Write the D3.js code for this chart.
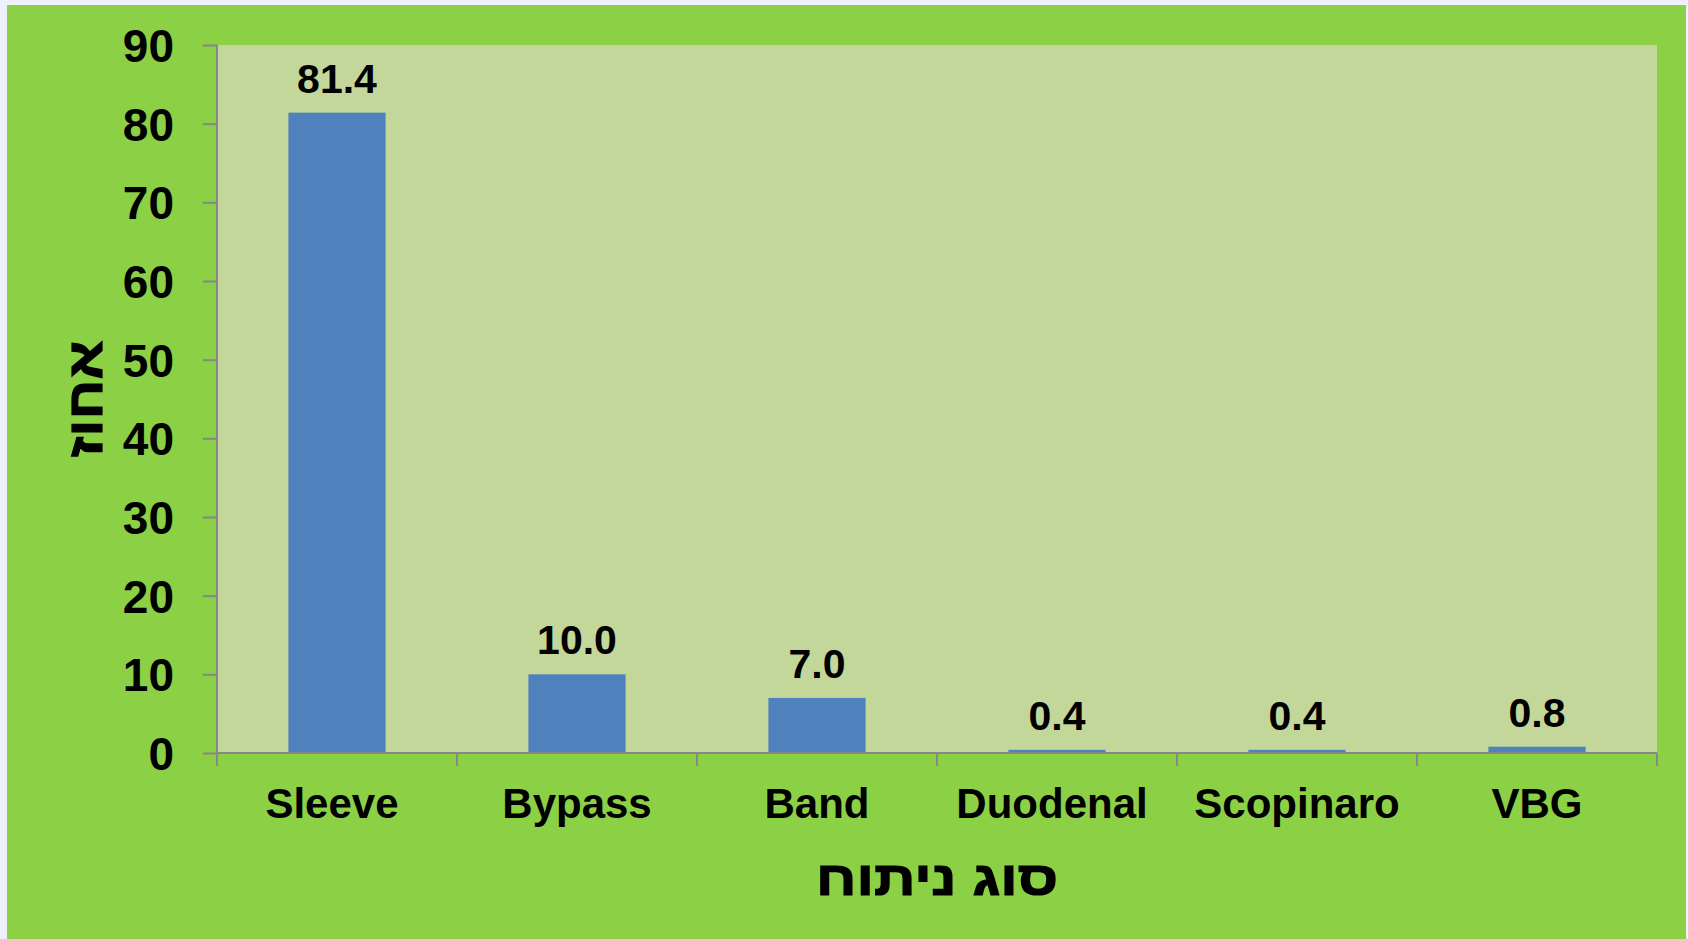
<!DOCTYPE html>
<html><head><meta charset="utf-8">
<script src="https://cdn.jsdelivr.net/npm/d3@7"></script>
<style>
html,body{margin:0;padding:0;background:#eef1fb;overflow:hidden;}
svg{display:block;}
text{font-family:"Liberation Sans",Arial,sans-serif;font-weight:bold;fill:#000;}
text.heb{stroke:#000;stroke-width:1.2px;}
</style></head>
<body>
<svg id="chart" width="1688" height="939"></svg>
<script>
const categories = ["Sleeve","Bypass","Band","Duodenal","Scopinaro","VBG"];
const values = [81.4, 10.0, 7.0, 0.4, 0.4, 0.8];
const yTicks = [0,10,20,30,40,50,60,70,80,90];
const xTitle = "סוג ניתוח";
const yTitle = "אחוז";

const svg = d3.select("#chart");
const W = 1688, H = 939;
const plot = {left:217, right:1657, top:45, bottom:753};

svg.append("rect").attr("x",7).attr("y",5).attr("width",1679).attr("height",H-5).attr("fill","#8cd046");
svg.append("rect").attr("x",plot.left).attr("y",plot.top)
  .attr("width",plot.right-plot.left).attr("height",plot.bottom-plot.top).attr("fill","#c4d79b");

const x = d3.scaleBand().domain(categories).range([plot.left, plot.right]).paddingInner(0.595).paddingOuter(0.2975);
const xOuter = d3.scaleBand().domain(categories).range([plot.left, plot.right]).padding(0);
const y = d3.scaleLinear().domain([0,90]).range([plot.bottom, plot.top]);

svg.append("g").selectAll("rect").data(values).join("rect")
  .attr("x",(d,i)=>x(categories[i]))
  .attr("width",x.bandwidth())
  .attr("y",d=>y(d))
  .attr("height",d=>y(0)-y(d))
  .attr("fill","#4f81bd");

// value labels
svg.append("g").selectAll("text").data(values).join("text")
  .attr("x",(d,i)=>x(categories[i])+x.bandwidth()/2)
  .attr("y",d=>y(d)-20)
  .attr("text-anchor","middle")
  .style("font-size","41px")
  .text(d=>d3.format(".1f")(d));

// y axis
const yAxis = svg.append("g").attr("transform",`translate(${plot.left},0)`)
  .call(d3.axisLeft(y).tickValues(yTicks).tickSize(14).tickPadding(29).tickFormat(d3.format("d")));
yAxis.select(".domain").attr("stroke","#878787").attr("stroke-width",2).attr("d",`M0,${plot.top}V${plot.bottom}`);
yAxis.selectAll(".tick line").attr("stroke","#878787").attr("stroke-width",2);
yAxis.selectAll(".tick text").style("font-size","46px").attr("font-family",null).attr("fill","#000").attr("dy","0.36em");

// x axis
const xAxis = svg.append("g").attr("transform",`translate(0,${plot.bottom})`)
  .call(d3.axisBottom(xOuter).tickSize(0).tickPadding(0));
xAxis.select(".domain").attr("stroke","#878787").attr("stroke-width",2).attr("d",`M${plot.left},0H${plot.right}`);
xAxis.selectAll(".tick text").style("font-size","42px").attr("font-family",null).attr("fill","#000").attr("y",65).attr("dy",0);
xAxis.selectAll(".tick").filter(d=>d==="Sleeve"||d==="Duodenal").select("text").attr("dx",-5);
const bounds = categories.map(c=>xOuter(c)).concat([plot.right]);
xAxis.append("g").selectAll("line").data(bounds).join("line")
  .attr("x1",d=>d).attr("x2",d=>d).attr("y1",0).attr("y2",13)
  .attr("stroke","#878787").attr("stroke-width",2);

// titles
svg.append("text").attr("class","heb").attr("x",(plot.left+plot.right)/2).attr("y",895)
  .attr("text-anchor","middle").attr("direction","rtl").style("font-size","48px")
  .attr("textLength",242).attr("lengthAdjust","spacingAndGlyphs").text(xTitle);
svg.append("text").attr("class","heb").attr("transform",`translate(102,${(plot.top+plot.bottom)/2}) rotate(-90)`)
  .attr("text-anchor","middle").attr("direction","rtl").style("font-size","49px")
  .attr("textLength",117).attr("lengthAdjust","spacingAndGlyphs").text(yTitle);
</script>
</body></html>
